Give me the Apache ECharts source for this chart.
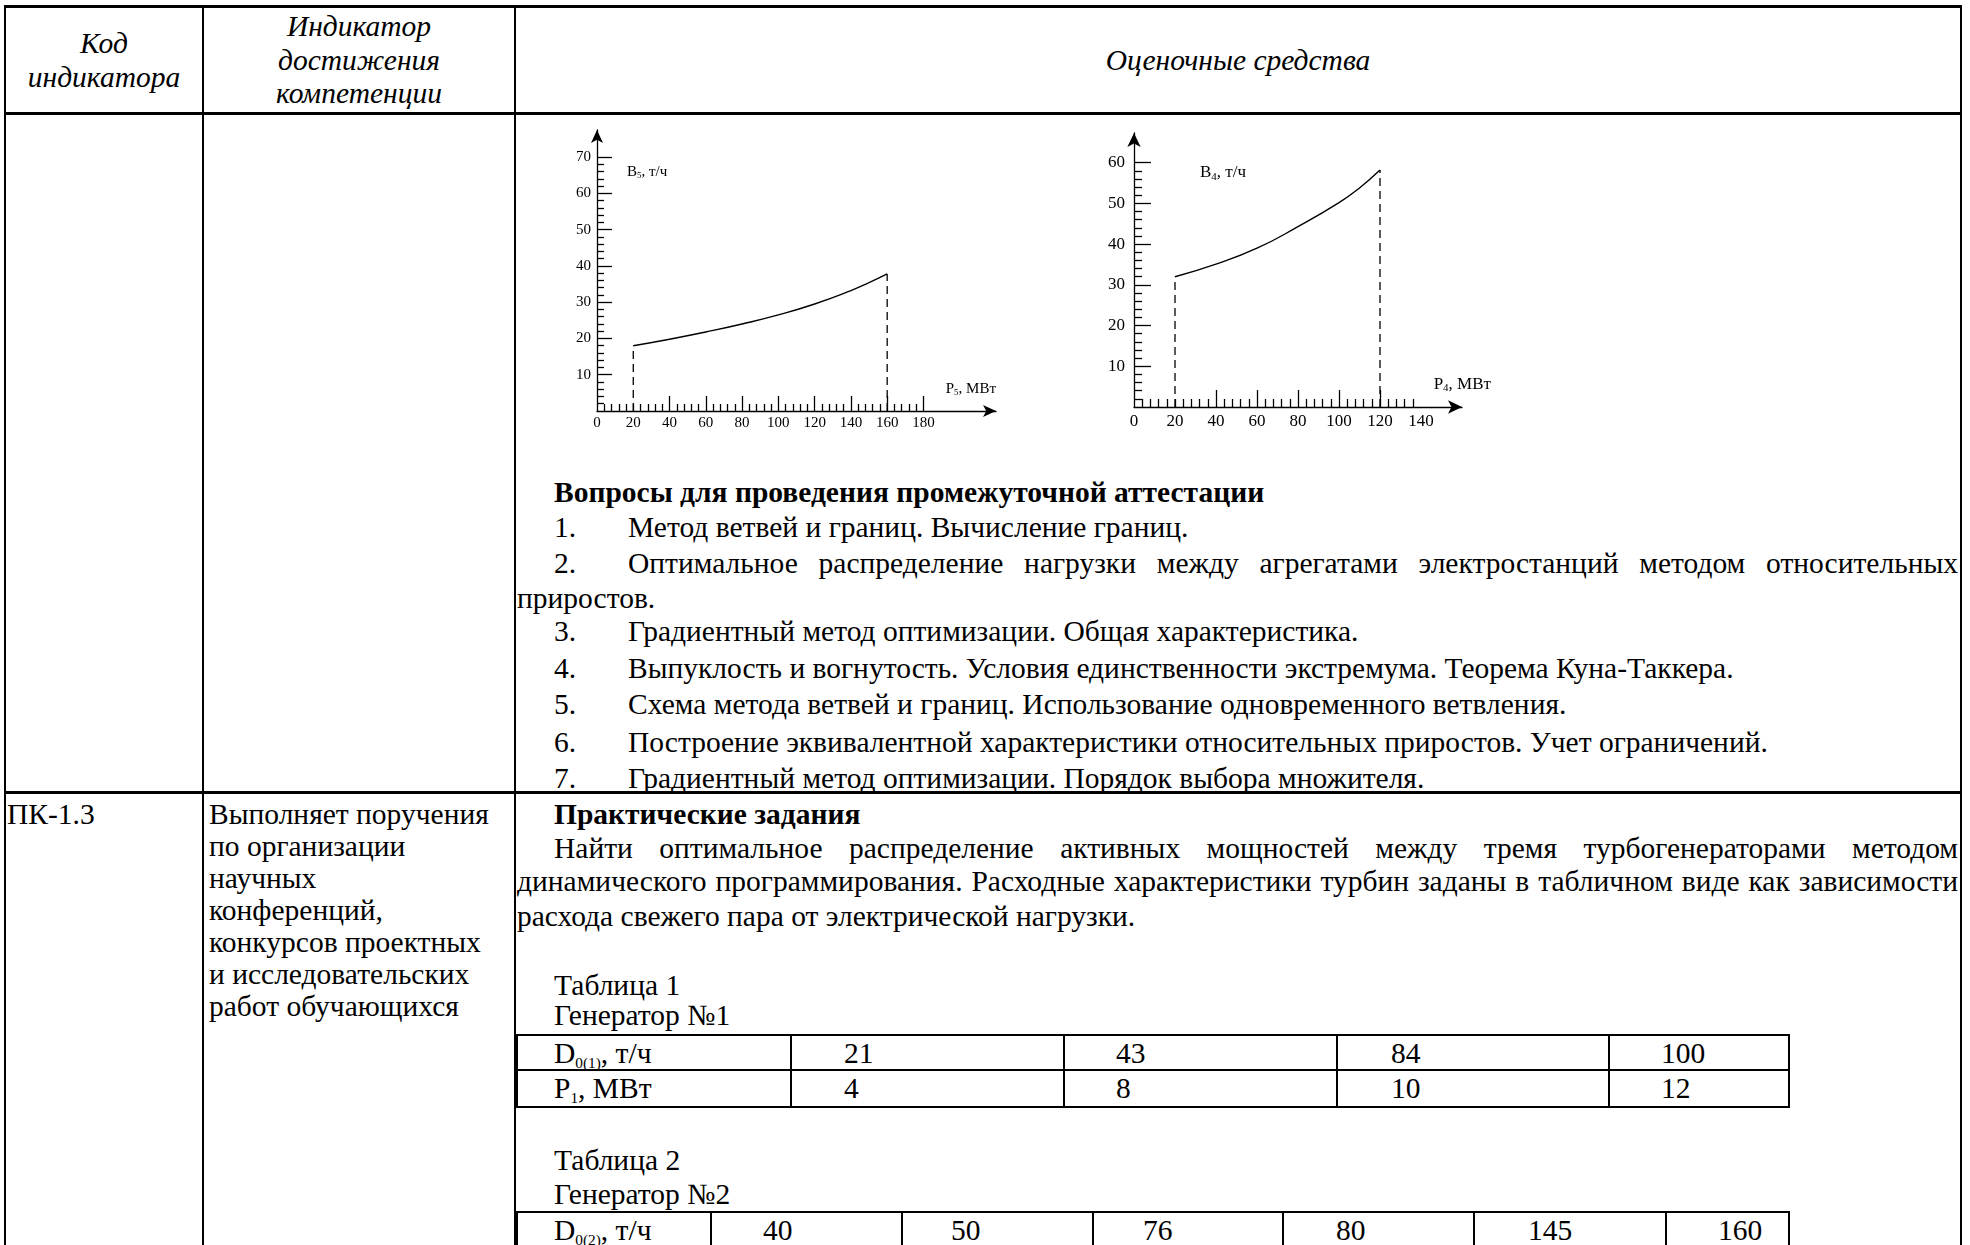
<!DOCTYPE html>
<html><head><meta charset="utf-8">
<script src="https://cdn.jsdelivr.net/npm/echarts@6/dist/echarts.min.js"></script>
<style>
html,body{margin:0;padding:0;background:#fff;}
body{width:1970px;height:1245px;overflow:hidden;position:relative;font-family:"Liberation Serif","Times New Roman",serif;color:#000;}
.hl{position:absolute;background:#000;height:3px;}
.vl{position:absolute;background:#000;width:2px;}
.ln{position:absolute;height:36px;line-height:36px;font-size:29.5px;white-space:nowrap;}
.hd{font-style:italic;font-size:29.5px;text-align:center;}
.b{font-weight:bold;}
.j{text-align:justify;text-align-last:justify;}
.tb{position:absolute;border:2px solid #000;box-sizing:border-box;}
sub{font-size:52%;vertical-align:-5px;line-height:0;}
#chart{position:absolute;left:0;top:0;width:1970px;height:1245px;z-index:5;}
</style>
</head><body>
<!-- outer table lines -->
<div class="hl" style="left:4px;top:5px;width:1958px;"></div>
<div class="hl" style="left:4px;top:112px;width:1958px;"></div>
<div class="hl" style="left:4px;top:791px;width:1958px;"></div>
<div class="vl" style="left:4px;top:5px;height:1240px;"></div>
<div class="vl" style="left:202px;top:5px;height:1240px;"></div>
<div class="vl" style="left:514px;top:5px;height:1240px;"></div>
<div class="vl" style="left:1960px;top:5px;height:1240px;"></div>

<!-- header -->
<div class="ln hd" style="left:5px;width:198px;top:25px;">Код</div>
<div class="ln hd" style="left:5px;width:198px;top:59px;">индикатора</div>
<div class="ln hd" style="left:204px;width:310px;top:8px;">Индикатор</div>
<div class="ln hd" style="left:204px;width:310px;top:42px;">достижения</div>
<div class="ln hd" style="left:204px;width:310px;top:75px;">компетенции</div>
<div class="ln hd" style="left:516px;width:1444px;top:42px;">Оценочные средства</div>

<!-- row 2 -->
<div class="ln b" style="left:554px;top:474px;">Вопросы для проведения промежуточной аттестации</div>
<div class="ln" style="left:554px;top:509px;">1.</div>
<div class="ln" style="left:628px;top:509px;">Метод ветвей и границ. Вычисление границ.</div>
<div class="ln" style="left:554px;top:545px;">2.</div>
<div class="ln j" style="left:628px;width:1330px;top:545px;">Оптимальное распределение нагрузки между агрегатами электростанций методом относительных</div>
<div class="ln" style="left:517px;top:580px;">приростов.</div>
<div class="ln" style="left:554px;top:613px;">3.</div>
<div class="ln" style="left:628px;top:613px;">Градиентный метод оптимизации. Общая характеристика.</div>
<div class="ln" style="left:554px;top:650px;">4.</div>
<div class="ln" style="left:628px;top:650px;">Выпуклость и вогнутость. Условия единственности экстремума. Теорема Куна-Таккера.</div>
<div class="ln" style="left:554px;top:686px;">5.</div>
<div class="ln" style="left:628px;top:686px;">Схема метода ветвей и границ. Использование одновременного ветвления.</div>
<div class="ln" style="left:554px;top:724px;">6.</div>
<div class="ln" style="left:628px;top:724px;">Построение эквивалентной характеристики относительных приростов. Учет ограничений.</div>
<div class="ln" style="left:554px;top:760px;">7.</div>
<div class="ln" style="left:628px;top:760px;">Градиентный метод оптимизации. Порядок выбора множителя.</div>

<!-- row 3 -->
<div class="ln" style="left:7px;top:796px;">ПК-1.3</div>
<div class="ln" style="left:209px;top:796px;">Выполняет поручения</div>
<div class="ln" style="left:209px;top:828px;">по организации</div>
<div class="ln" style="left:209px;top:860px;">научных</div>
<div class="ln" style="left:209px;top:892px;">конференций,</div>
<div class="ln" style="left:209px;top:924px;">конкурсов проектных</div>
<div class="ln" style="left:209px;top:956px;">и исследовательских</div>
<div class="ln" style="left:209px;top:988px;">работ обучающихся</div>

<div class="ln b" style="left:554px;top:796px;">Практические задания</div>
<div class="ln j" style="left:554px;width:1404px;top:830px;">Найти оптимальное распределение активных мощностей между тремя турбогенераторами методом</div>
<div class="ln j" style="left:517px;width:1441px;top:863px;">динамического программирования. Расходные характеристики турбин заданы в табличном виде как зависимости</div>
<div class="ln" style="left:517px;top:898px;">расхода свежего пара от электрической нагрузки.</div>

<div class="ln" style="left:554px;top:967px;">Таблица 1</div>
<div class="ln" style="left:554px;top:997px;">Генератор №1</div>
<div class="tb" style="left:516px;top:1034px;width:1274px;height:74px;"></div>
<div class="hl" style="left:516px;top:1069px;width:1274px;height:2px;"></div>
<div class="vl" style="left:790px;top:1034px;height:74px;"></div>
<div class="vl" style="left:1063px;top:1034px;height:74px;"></div>
<div class="vl" style="left:1336px;top:1034px;height:74px;"></div>
<div class="vl" style="left:1608px;top:1034px;height:74px;"></div>
<div class="ln" style="left:554px;top:1035px;">D<sub>0(1)</sub>, т/ч</div>
<div class="ln" style="left:844px;top:1035px;">21</div>
<div class="ln" style="left:1116px;top:1035px;">43</div>
<div class="ln" style="left:1391px;top:1035px;">84</div>
<div class="ln" style="left:1661px;top:1035px;">100</div>
<div class="ln" style="left:554px;top:1070px;">P<sub>1</sub>, МВт</div>
<div class="ln" style="left:844px;top:1070px;">4</div>
<div class="ln" style="left:1116px;top:1070px;">8</div>
<div class="ln" style="left:1391px;top:1070px;">10</div>
<div class="ln" style="left:1661px;top:1070px;">12</div>

<div class="ln" style="left:554px;top:1142px;">Таблица 2</div>
<div class="ln" style="left:554px;top:1176px;">Генератор №2</div>
<div class="tb" style="left:516px;top:1211px;width:1274px;height:40px;"></div>
<div class="vl" style="left:710px;top:1211px;height:40px;"></div>
<div class="vl" style="left:901px;top:1211px;height:40px;"></div>
<div class="vl" style="left:1092px;top:1211px;height:40px;"></div>
<div class="vl" style="left:1282px;top:1211px;height:40px;"></div>
<div class="vl" style="left:1473px;top:1211px;height:40px;"></div>
<div class="vl" style="left:1665px;top:1211px;height:40px;"></div>
<div class="ln" style="left:554px;top:1212px;">D<sub>0(2)</sub>, т/ч</div>
<div class="ln" style="left:763px;top:1212px;">40</div>
<div class="ln" style="left:951px;top:1212px;">50</div>
<div class="ln" style="left:1143px;top:1212px;">76</div>
<div class="ln" style="left:1336px;top:1212px;">80</div>
<div class="ln" style="left:1528px;top:1212px;">145</div>
<div class="ln" style="left:1718px;top:1212px;">160</div>

<div id="chart"></div>
<script>
// ---- data ----
const P5 = [20, 40, 60, 80, 100, 120, 140, 150, 160];              // P5, MW
const B5 = [18.0, 19.8, 21.8, 24.0, 26.5, 29.5, 33.2, 35.4, 37.8];  // B5, t/h
const P4 = [20, 40, 60, 80, 100, 110, 120];                        // P4, MW
const B4 = [32.0, 35.1, 39.0, 44.3, 50.2, 53.8, 58.2];             // B4, t/h

const xLabels5 = [0, 20, 40, 60, 80, 100, 120, 140, 160, 180];
const yLabels5 = [10, 20, 30, 40, 50, 60, 70];
const xLabels4 = [0, 20, 40, 60, 80, 100, 120, 140];
const yLabels4 = [10, 20, 30, 40, 50, 60];

function steps(from, to, step) { const a = []; for (let v = from; v <= to + 1e-9; v += step) a.push(+v.toFixed(4)); return a; }
function minus(a, b) { return a.filter(v => b.indexOf(v) < 0); }

const FONT = 'Liberation Serif';
const BLACK = '#000';

function chartAxes(gi, c) {
  const xMajor = c.xMajor, yMajor = c.yMajor;
  const xMinor = minus(steps(c.xStep, c.xTickEnd, c.xStep), xMajor);
  const yMinor = minus(steps(c.yStep, c.yTickEnd, c.yStep), yMajor);
  const lineStyle = { color: BLACK, width: 1.3 };
  const rich = { s: { fontSize: Math.round(c.fs * 0.62), fontFamily: FONT, color: BLACK, padding: [c.fs * 0.45, 0, 0, 0] } };
  const xa = [
    { type: 'value', gridIndex: gi, min: 0, max: c.xMax, position: 'bottom',
      axisLine: { show: true, onZero: false, symbol: ['none', 'arrow'], symbolSize: [c.arrowW, c.arrowH], lineStyle },
      axisTick: { show: true, inside: true, length: c.minorLen, customValues: xMinor, lineStyle },
      axisLabel: { show: true, customValues: c.xLabels, color: BLACK, fontFamily: FONT, fontSize: c.fs, margin: c.xMargin },
      splitLine: { show: false },
      name: c.xName, nameLocation: 'end', nameGap: c.xNameGap, nameMoveOverlap: false,
      nameTextStyle: { color: BLACK, fontFamily: FONT, fontSize: c.fs, align: 'right', verticalAlign: 'bottom', padding: [0, 0, c.xNamePad, 0], rich } },
    { type: 'value', gridIndex: gi, min: 0, max: c.xMax, position: 'bottom',
      axisLine: { show: false, onZero: false },
      axisTick: { show: true, inside: true, length: c.majorLen, customValues: xMajor, lineStyle },
      axisLabel: { show: false }, splitLine: { show: false } }
  ];
  const ya = [
    { type: 'value', gridIndex: gi, min: 0, max: c.yMax, position: 'left',
      axisLine: { show: true, onZero: false, symbol: ['none', 'arrow'], symbolSize: [c.arrowW, c.arrowH], lineStyle },
      axisTick: { show: true, inside: true, length: c.minorLen, customValues: yMinor, lineStyle },
      axisLabel: { show: true, customValues: c.yLabels, color: BLACK, fontFamily: FONT, fontSize: c.fs, margin: c.yMargin },
      splitLine: { show: false },
      name: c.yName, nameLocation: 'end', nameGap: c.yNameGap, nameMoveOverlap: false,
      nameTextStyle: { color: BLACK, fontFamily: FONT, fontSize: c.fs, align: 'left', verticalAlign: 'middle', padding: [0, 0, 0, c.yNamePad], rich } },
    { type: 'value', gridIndex: gi, min: 0, max: c.yMax, position: 'left',
      axisLine: { show: false, onZero: false },
      axisTick: { show: true, inside: true, length: c.majorLen, customValues: yMajor, lineStyle },
      axisLabel: { show: false }, splitLine: { show: false } }
  ];
  return { xa, ya };
}

function chartSeries(xi, yi, xs, ys) {
  const pts = xs.map((x, i) => [x, ys[i]]);
  const n = xs.length - 1;
  const dash = { color: BLACK, width: 1.3, type: [8, 5] };
  return [
    { type: 'line', xAxisIndex: xi, yAxisIndex: yi, data: pts, smooth: 0.5, symbol: 'none',
      lineStyle: { color: BLACK, width: 1.4 }, silent: true, animation: false },
    { type: 'line', xAxisIndex: xi, yAxisIndex: yi, data: [[xs[0], 0], [xs[0], ys[0]]], symbol: 'none',
      lineStyle: dash, silent: true, animation: false },
    { type: 'line', xAxisIndex: xi, yAxisIndex: yi, data: [[xs[n], 0], [xs[n], ys[n]]], symbol: 'none',
      lineStyle: dash, silent: true, animation: false }
  ];
}

const c1 = chartAxes(0, {
  xMax: 220, yMax: 77.5, xStep: 4, yStep: 2, xTickEnd: 176, yTickEnd: 68,
  xMajor: [40, 60, 80, 100, 120, 140, 160, 180], yMajor: yLabels5,
  xLabels: xLabels5, yLabels: yLabels5, fs: 15, xMargin: 5, yMargin: 6,
  minorLen: 7, majorLen: 15, arrowW: 9, arrowH: 13,
  xName: 'P{s|5}, МВт', xNameGap: 0, xNamePad: 14,
  yName: 'B{s|5}, т/ч', yNameGap: -42, yNamePad: 30
});
const c2 = chartAxes(1, {
  xMax: 160, yMax: 67.3, xStep: 4, yStep: 2, xTickEnd: 136, yTickEnd: 58,
  xMajor: [40, 60, 80, 100, 120], yMajor: yLabels4,
  xLabels: xLabels4, yLabels: yLabels4, fs: 17, xMargin: 6, yMargin: 9,
  minorLen: 8, majorLen: 17, arrowW: 10, arrowH: 14,
  xName: 'P{s|4}, МВт', xNameGap: 29, xNamePad: 13,
  yName: 'B{s|4}, т/ч', yNameGap: -40, yNamePad: 66
});

const chart = echarts.init(document.getElementById('chart'), null, { renderer: 'canvas' });
chart.setOption({
  backgroundColor: 'transparent',
  animation: false,
  grid: [
    { left: 597, top: 130, width: 399, height: 281, containLabel: false },
    { left: 1134, top: 133, width: 328, height: 274, containLabel: false }
  ],
  xAxis: [...c1.xa, ...c2.xa],
  yAxis: [...c1.ya, ...c2.ya],
  series: [...chartSeries(0, 0, P5, B5), ...chartSeries(2, 2, P4, B4)]
});
</script>
</body></html>
